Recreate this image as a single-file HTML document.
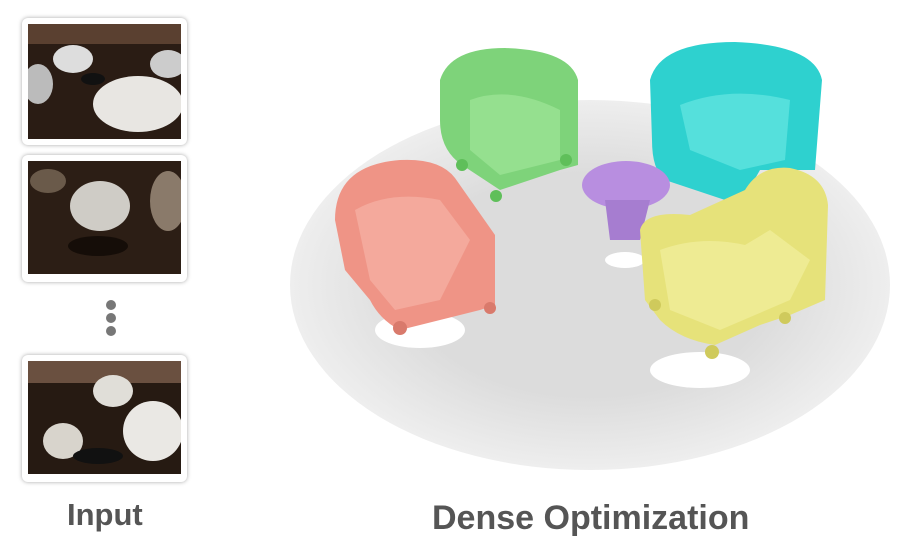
<!DOCTYPE html>
<html><head><style>
body{margin:0;width:900px;height:543px;background:#fff;position:relative;overflow:hidden;font-family:"Liberation Sans",sans-serif}
.th{position:absolute;left:22px;width:165px;height:127px;border-radius:6px;background:#fff;box-shadow:0 0 4px rgba(0,0,0,.35)}
.th svg{position:absolute;left:6px;top:6px}
.dot{position:absolute;left:106px;width:10px;height:10px;border-radius:50%;background:#777}
.t{position:absolute;color:#555;font-weight:bold}
</style></head><body>
<div class="th" style="top:18px"><svg width="153" height="115"><rect width="153" height="115" fill="#2a1c14"/><rect width="153" height="20" fill="#5a4030"/><ellipse cx="45" cy="35" rx="20" ry="14" fill="#ddd"/><ellipse cx="110" cy="80" rx="45" ry="28" fill="#e8e6e2"/><ellipse cx="140" cy="40" rx="18" ry="14" fill="#ccc"/><ellipse cx="10" cy="60" rx="15" ry="20" fill="#bbb"/><ellipse cx="65" cy="55" rx="12" ry="6" fill="#111"/></svg></div>
<div class="th" style="top:155px"><svg width="153" height="113"><rect width="153" height="113" fill="#2c1e15"/><ellipse cx="72" cy="45" rx="30" ry="25" fill="#cfccc6"/><ellipse cx="140" cy="40" rx="18" ry="30" fill="#8a7a6a"/><ellipse cx="70" cy="85" rx="30" ry="10" fill="#150d08"/><ellipse cx="20" cy="20" rx="18" ry="12" fill="#6a5a4a"/></svg></div>
<div class="th" style="top:355px"><svg width="153" height="113"><rect width="153" height="113" fill="#261a12"/><rect width="153" height="22" fill="#6a5040"/><ellipse cx="85" cy="30" rx="20" ry="16" fill="#e0ded8"/><ellipse cx="125" cy="70" rx="30" ry="30" fill="#eae8e4"/><ellipse cx="35" cy="80" rx="20" ry="18" fill="#d8d4cc"/><ellipse cx="70" cy="95" rx="25" ry="8" fill="#111"/></svg></div>
<div class="dot" style="top:300px"></div><div class="dot" style="top:313px"></div><div class="dot" style="top:326px"></div>
<div class="t" style="left:67px;top:497px;font-size:31px">Input</div>
<div class="t" style="left:432px;top:499px;font-size:34px">Dense Optimization</div>
<svg style="position:absolute;left:0;top:0" width="900" height="543">
<defs><radialGradient id="g" cx="0.5" cy="0.5" r="0.5"><stop offset="0.6" stop-color="#dcdcdc"/><stop offset="1" stop-color="#eeeeee"/></radialGradient></defs>
<ellipse cx="590" cy="285" rx="300" ry="185" fill="url(#g)"/>
<ellipse cx="420" cy="330" rx="45" ry="18" fill="#fff"/>
<ellipse cx="700" cy="370" rx="50" ry="18" fill="#fff"/>
<ellipse cx="625" cy="260" rx="20" ry="8" fill="#fff"/>
<path d="M440 80 Q450 48 505 48 Q570 50 578 80 L578 165 L560 170 L500 190 L462 165 Q440 150 440 120Z" fill="#7ed37a"/>
<path d="M470 100 Q510 85 560 110 L560 160 L500 175 L470 150Z" fill="#95e08f"/>
<circle cx="496" cy="196" r="6" fill="#5fbf5a"/><circle cx="566" cy="160" r="6" fill="#5fbf5a"/><circle cx="462" cy="165" r="6" fill="#5fbf5a"/>
<path d="M650 80 Q660 42 735 42 Q815 45 822 80 L815 170 L760 170 L740 205 L665 180 Q652 170 652 140Z" fill="#2ed1cf"/>
<path d="M680 105 Q730 85 790 100 L785 160 L740 170 L690 150Z" fill="#55e0dc"/>
<ellipse cx="626" cy="185" rx="44" ry="24" fill="#b88ee0"/>
<path d="M605 200 L650 200 L640 240 L610 240Z" fill="#a67dd0"/>
<path d="M335 220 Q335 165 400 160 Q440 158 455 178 L495 235 L495 305 L480 310 L440 320 L400 330 Q380 320 370 300 L345 270Z" fill="#ef9486"/>
<path d="M355 210 Q390 190 440 200 L470 240 L440 300 L395 310 L370 280Z" fill="#f4a99c"/>
<circle cx="400" cy="328" r="7" fill="#d97a6c"/><circle cx="490" cy="308" r="6" fill="#d97a6c"/>
<path d="M640 230 Q645 210 690 215 L745 190 Q760 165 790 168 Q825 175 828 205 L825 300 L790 315 L760 325 L715 345 Q680 340 660 320 L645 300Z" fill="#e6e27a"/>
<path d="M660 250 Q700 235 745 245 L770 230 L810 260 L790 300 L720 330 L670 310Z" fill="#eeeb93"/>
<circle cx="712" cy="352" r="7" fill="#cfca5c"/><circle cx="785" cy="318" r="6" fill="#cfca5c"/><circle cx="655" cy="305" r="6" fill="#cfca5c"/>
</svg>
</body></html>
